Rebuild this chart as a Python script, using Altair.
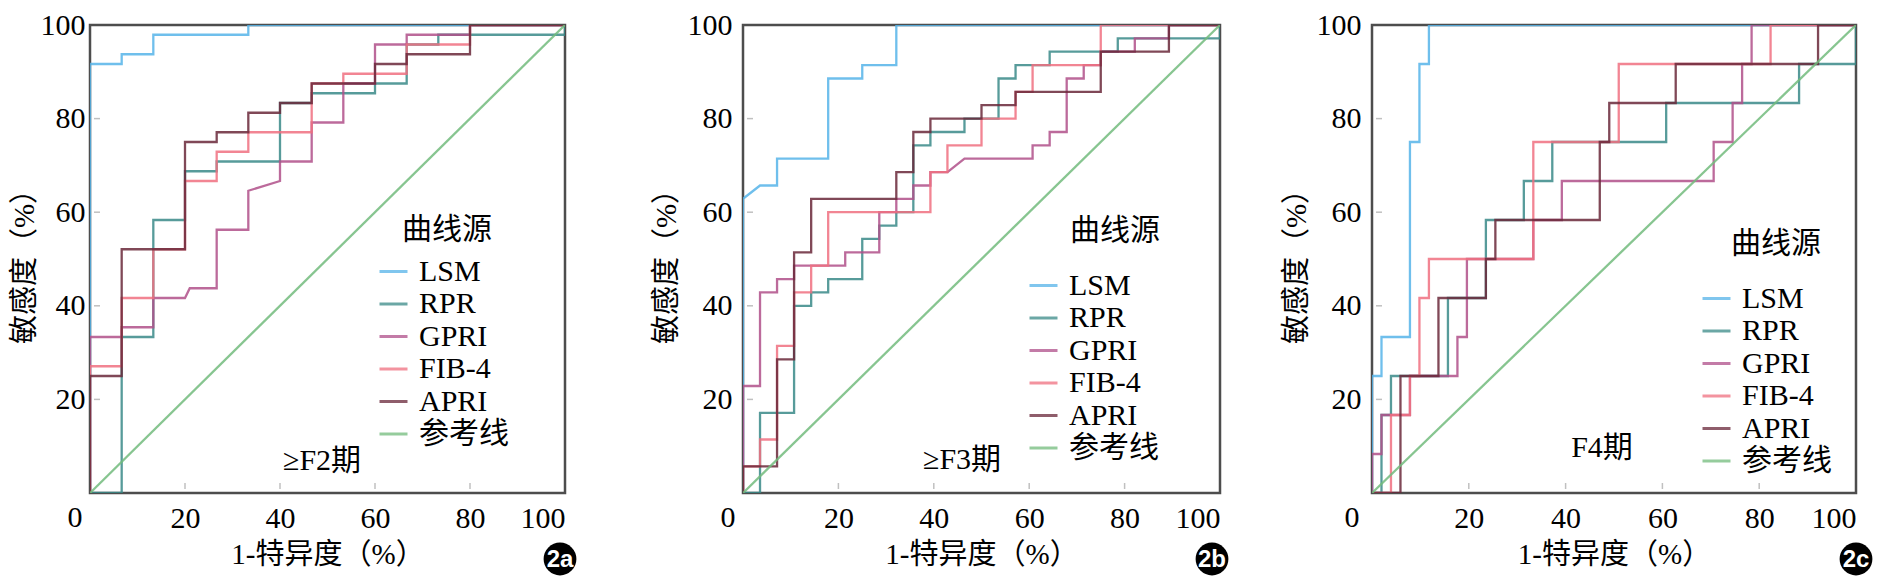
import altair as alt
import pandas as pd

FONT = "Liberation Serif, Noto Sans CJK SC"
SERIES = ["LSM", "RPR", "GPRI", "FIB-4", "APRI", "参考线"]
COLORS = ["#56b4e9", "#3a8a88", "#b0508a", "#f07080", "#6a283a", "#72bb7c"]

X_TICKS = [20, 40, 60, 80, 100]
Y_TICKS = [20, 40, 60, 80, 100]
CORNER_LABEL = "0"
INNER_TICKS = [20, 40, 60, 80]

REF_LINE = [(0, 0), (100, 100)]

# ---- Panel 2a (>=F2) ----
A_LSM = [(0, 0), (0, 91.67), (6.67, 91.67), (6.67, 93.75), (13.33, 93.75), (13.33, 97.92),
         (33.33, 97.92), (33.33, 100), (100, 100)]
A_RPR = [(0, 0), (6.67, 0), (6.67, 33.33), (13.33, 33.33), (13.33, 58.33), (20, 58.33),
         (20, 68.75), (26.67, 68.75), (26.67, 70.83), (40, 70.83), (40, 83.33), (46.67, 83.33),
         (46.67, 85.42), (60, 85.42), (60, 87.5), (66.67, 87.5), (66.67, 95.83), (73.33, 95.83),
         (73.33, 97.92), (100, 97.92), (100, 100)]
A_GPRI = [(0, 0), (0, 33.33), (6.67, 33.33), (6.67, 35.42), (13.33, 35.42), (13.33, 41.67),
          (20, 41.67), (21, 43.75), (26.67, 43.75), (26.67, 56.25), (33.33, 56.25), (33.33, 64.58),
          (40, 66.67), (40, 70.83), (46.67, 70.83), (46.67, 79.17), (53.33, 79.17), (53.33, 87.5),
          (60, 87.5), (60, 95.83), (66.67, 95.83), (66.67, 97.92), (80, 97.92), (80, 100), (100, 100)]
A_FIB4 = [(0, 0), (0, 27.08), (6.67, 27.08), (6.67, 41.67), (13.33, 41.67), (13.33, 52.08),
          (20, 52.08), (20, 66.67), (26.67, 66.67), (26.67, 72.92), (33.33, 72.92), (33.33, 77.08),
          (46.67, 77.08), (46.67, 87.5), (53.33, 87.5), (53.33, 89.58), (66.67, 89.58),
          (66.67, 95.83), (80, 95.83), (80, 100), (100, 100)]
A_APRI = [(0, 0), (0, 25), (6.67, 25), (6.67, 52.08), (20, 52.08), (20, 75), (26.67, 75),
          (26.67, 77.08), (33.33, 77.08), (33.33, 81.25), (40, 81.25), (40, 83.33), (46.67, 83.33),
          (46.67, 87.5), (60, 87.5), (60, 91.67), (66.67, 91.67), (66.67, 93.75), (80, 93.75),
          (80, 100), (100, 100)]

# ---- Panel 2b (>=F3) ----
B_LSM = [(0, 0), (0, 62.86), (3.57, 65.71), (7.14, 65.71), (7.14, 71.43), (17.86, 71.43),
         (17.86, 88.57), (25, 88.57), (25, 91.43), (32.14, 91.43), (32.14, 100), (100, 100)]
B_RPR = [(0, 0), (3.57, 0), (3.57, 17.14), (10.71, 17.14), (10.71, 40), (14.29, 40),
         (14.29, 42.86), (17.86, 42.86), (17.86, 45.71), (25, 45.71), (25, 54.29), (28.57, 54.29),
         (28.57, 57.14), (32.14, 57.14), (32.14, 60), (35.71, 60), (35.71, 74.29), (39.29, 74.29),
         (39.29, 77.14), (46.43, 77.14), (46.43, 80), (53.57, 80), (53.57, 88.57), (57.14, 88.57),
         (57.14, 91.43), (64.29, 91.43), (64.29, 94.29), (78.57, 94.29), (78.57, 97.14),
         (100, 97.14), (100, 100)]
B_GPRI = [(0, 0), (0, 22.86), (3.57, 22.86), (3.57, 42.86), (7.14, 42.86), (7.14, 45.71),
          (10.71, 45.71), (10.71, 48.57), (21.43, 48.57), (21.43, 51.43), (28.57, 51.43),
          (28.57, 60), (32.14, 60), (32.14, 62.86), (35.71, 62.86), (35.71, 65.71), (39.29, 65.71),
          (39.29, 68.57), (42.86, 68.57), (46.43, 71.43), (60.71, 71.43), (60.71, 74.29),
          (64.29, 74.29), (64.29, 77.14), (67.86, 77.14), (67.86, 88.57), (71.43, 88.57),
          (71.43, 91.43), (75, 91.43), (75, 94.29), (82.14, 94.29), (82.14, 97.14), (89.29, 97.14),
          (89.29, 100), (100, 100)]
B_FIB4 = [(0, 0), (0, 5.71), (3.57, 5.71), (3.57, 11.43), (7.14, 11.43), (7.14, 31.43),
          (10.71, 31.43), (10.71, 42.86), (14.29, 42.86), (14.29, 48.57), (17.86, 48.57),
          (17.86, 60), (39.29, 60), (39.29, 68.57), (42.86, 68.57), (42.86, 74.29), (50, 74.29),
          (50, 80), (57.14, 80), (57.14, 85.71), (60.71, 85.71), (60.71, 91.43), (75, 91.43),
          (75, 100), (100, 100)]
B_APRI = [(0, 0), (0, 5.71), (7.14, 5.71), (7.14, 28.57), (10.71, 28.57), (10.71, 51.43),
          (14.29, 51.43), (14.29, 62.86), (32.14, 62.86), (32.14, 68.57), (35.71, 68.57),
          (35.71, 77.14), (39.29, 77.14), (39.29, 80), (50, 80), (50, 82.86), (57.14, 82.86),
          (57.14, 85.71), (75, 85.71), (75, 94.29), (89.29, 94.29), (89.29, 100), (100, 100)]

# ---- Panel 2c (F4) ----
C_LSM = [(0, 0), (0, 25), (1.96, 25), (1.96, 33.33), (7.84, 33.33), (7.84, 75), (9.8, 75),
         (9.8, 91.67), (11.76, 91.67), (11.76, 100), (100, 100)]
C_RPR = [(0, 0), (1.96, 0), (1.96, 16.67), (3.92, 16.67), (3.92, 25), (15.69, 25), (15.69, 41.67),
         (23.53, 41.67), (23.53, 58.33), (31.37, 58.33), (31.37, 66.67), (37.25, 66.67),
         (37.25, 75), (60.78, 75), (60.78, 83.33), (88.24, 83.33), (88.24, 91.67), (100, 91.67),
         (100, 100)]
C_GPRI = [(0, 0), (0, 8.33), (1.96, 8.33), (1.96, 16.67), (7.84, 16.67), (7.84, 25), (17.65, 25),
          (17.65, 33.33), (19.61, 33.33), (19.61, 50), (33.33, 50), (33.33, 58.33), (39.22, 58.33),
          (39.22, 66.67), (70.59, 66.67), (70.59, 75), (74.51, 75), (74.51, 83.33), (76.47, 83.33),
          (76.47, 91.67), (78.43, 91.67), (78.43, 100), (100, 100)]
C_FIB4 = [(0, 0), (3.92, 0), (3.92, 16.67), (7.84, 16.67), (7.84, 25), (9.8, 25), (9.8, 41.67),
          (11.76, 41.67), (11.76, 50), (33.33, 50), (33.33, 75), (50.98, 75), (50.98, 91.67),
          (82.35, 91.67), (82.35, 100), (100, 100)]
C_APRI = [(0, 0), (5.88, 0), (5.88, 25), (13.73, 25), (13.73, 41.67), (23.53, 41.67),
          (23.53, 50), (25.49, 50), (25.49, 58.33), (47.06, 58.33), (47.06, 75), (49.02, 75),
          (49.02, 83.33), (62.75, 83.33), (62.75, 91.67), (92.16, 91.67), (92.16, 100), (100, 100)]

H = 468


def curves_df(curves):
    rows = []
    for name, pts in zip(SERIES, curves):
        for i, (x, y) in enumerate(pts):
            rows.append({"series": name, "i": i, "x": x, "y": y})
    return pd.DataFrame(rows)


def text_layer(txt, x, y, **kw):
    return alt.Chart(pd.DataFrame({"t": [txt]})).mark_text(**kw).encode(
        x=alt.value(x), y=alt.value(y), text="t:N")


def panel(curves, W, stage, stage_x, stage_above, badge, badge_x, title_x, title_above,
          lx, first_above, y_lp, y_tp, corner_dx, extra_right=None):
    xs = alt.Scale(domain=[0, 100], nice=False, zero=False)
    ys = alt.Scale(domain=[0, 100], nice=False, zero=False)
    xaxis = alt.Axis(
        values=X_TICKS, title="1-特异度（%）", grid=False, domain=False, ticks=False,
        labelPadding=10, titlePadding=7, labelFontSize=30, titleFontSize=29,
        labelFont=FONT, titleFont=FONT, titleFontWeight="normal", labelColor="black",
        titleColor="black")
    yaxis = alt.Axis(
        values=Y_TICKS, title="敏感度（%）", grid=False, domain=False, ticks=False,
        labelPadding=y_lp, titlePadding=y_tp, labelFontSize=30, titleFontSize=29,
        labelFont=FONT, titleFont=FONT, titleFontWeight="normal", labelColor="black",
        titleColor="black")
    lines = alt.Chart(curves_df(curves)).mark_line(strokeWidth=2.3, opacity=0.85, clip=True).encode(
        x=alt.X("x:Q", scale=xs, axis=xaxis),
        y=alt.Y("y:Q", scale=ys, axis=yaxis),
        color=alt.Color("series:N", scale=alt.Scale(domain=SERIES, range=COLORS), legend=alt.Legend(
            orient="none", legendX=lx, legendY=H - first_above - 15, title=None,
            labelFont=FONT, labelFontSize=30, labelColor="black", labelOffset=10,
            symbolType="stroke", symbolSize=784, symbolStrokeWidth=3, symbolOpacity=0.75,
            rowPadding=1.5, padding=0)),
        order="i:Q",
    )
    tdf = pd.DataFrame({"x": INNER_TICKS, "y": INNER_TICKS})
    yt = alt.Chart(tdf).mark_rule(color="#c0c0c0", strokeWidth=1.5).encode(
        y=alt.Y("y:Q", scale=ys, axis=yaxis), x=alt.value(4), x2=alt.value(10))
    xt = alt.Chart(tdf).mark_rule(color="#c0c0c0", strokeWidth=1.5).encode(
        x=alt.X("x:Q", scale=xs, axis=xaxis), y=alt.value(H - 4), y2=alt.value(H - 10))
    lt = text_layer("曲线源", title_x, H - title_above, font=FONT, fontSize=30, color="black")
    st = text_layer(stage, stage_x, H - stage_above, font=FONT, fontSize=30, color="black")
    corner = text_layer(CORNER_LABEL, corner_dx, H + 25, font=FONT, fontSize=30, color="black")
    bc = alt.Chart(pd.DataFrame({"t": [badge]})).mark_circle(
        size=1075, color="black", opacity=1).encode(x=alt.value(badge_x), y=alt.value(H + 66))
    bt = text_layer(badge, badge_x, H + 67, font="Liberation Sans", fontSize=24,
                    fontWeight="bold", color="white")
    layers = [lines, yt, xt, lt, st, corner, bc, bt]
    if extra_right is not None:
        ex = alt.Chart(pd.DataFrame({"t": [0]})).mark_rule(color="white", strokeWidth=1).encode(
            x=alt.value(extra_right), y=alt.value(H + 2), y2=alt.value(H + 3))
        layers.append(ex)
    return alt.layer(*layers).properties(width=W, height=H)


pa = panel([A_LSM, A_RPR, A_GPRI, A_FIB4, A_APRI, REF_LINE], 475, "≥F2期", 232, 32, "2a",
           470, 357, 263, 288, 222, 5, 1, -15, extra_right=507)
pb = panel([B_LSM, B_RPR, B_GPRI, B_FIB4, B_APRI, REF_LINE], 477, "≥F3期", 219, 33, "2b",
           469, 372, 262, 285, 208, 11, 6, -15)
pc = panel([C_LSM, C_RPR, C_GPRI, C_FIB4, C_APRI, REF_LINE], 484, "F4期", 230, 45, "2c",
           484, 404, 249, 329, 195, 11, 4.5, -20)

chart = alt.hconcat(pa, pb, pc, spacing=51).resolve_scale(color="independent").resolve_legend(
    color="independent").properties(padding=0).configure_view(
    stroke="#4d4d4d", strokeWidth=2.5)

chart.save("out.html", embed_options={"renderer": "svg", "actions": False})
